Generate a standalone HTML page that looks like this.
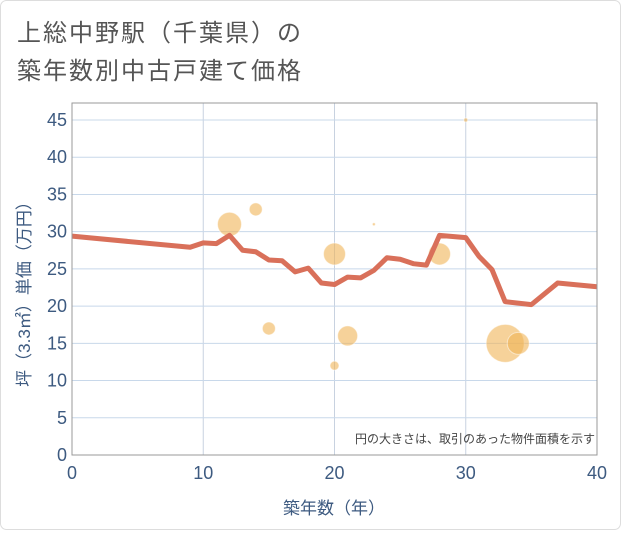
<!DOCTYPE html>
<html><head><meta charset="utf-8"><style>
body{margin:0;background:#fff;}
svg text{font-family:"Liberation Sans","Noto Sans CJK JP",sans-serif;}
</style></head><body>
<svg width="621" height="530" xmlns="http://www.w3.org/2000/svg">
<rect x="0.5" y="0.5" width="620" height="529" rx="6" fill="#fff" stroke="#ddd"/>
<text x="17" y="41" font-size="24" letter-spacing="2" fill="#555">上総中野駅（千葉県）の</text>
<text x="17" y="79" font-size="24" letter-spacing="2" fill="#555">築年数別中古戸建て価格</text>
<g id="grid"></g>
<g id="bubbles"></g>
<g id="line"></g>
<rect x="72" y="103" width="525" height="352" fill="none" stroke="#999" stroke-width="1"/>
<g id="axes"></g>
<text x="595" y="443" font-size="12" fill="#444" text-anchor="end">円の大きさは、取引のあった物件面積を示す</text>
<text x="334" y="514" font-size="17" fill="#3d5a80" text-anchor="middle">築年数（年）</text>
<text transform="translate(30,290) rotate(-90)" font-size="17" fill="#3d5a80" text-anchor="middle">坪（3.3㎡）単価（万円）</text>
</svg>
<script>
const xTicks=[0,10,20,30,40];
const yTicks=[0,5,10,15,20,25,30,35,40,45];
const lineYears=[0,9,10,11,12,13,14,15,16,17,18,19,20,21,22,23,24,25,26,27,28,30,31,32,33,35,37,40];
const lineValues=[29.4,27.9,28.5,28.4,29.5,27.5,27.3,26.2,26.1,24.6,25.1,23.1,22.9,23.9,23.8,24.8,26.5,26.3,25.7,25.5,29.5,29.2,26.7,24.9,20.6,20.2,23.1,22.6];
const bubbleYears=[12,14,15,20,20,21,23,28,30,33,34];
const bubbleValues=[31,33,17,27,12,16,31,27,45,15,15];
const bubbleSizes=[12,6.5,6.5,11,4.5,10,1.5,11,2,19,11];
const NS="http://www.w3.org/2000/svg";
const X=v=>72+v*525/40, Y=v=>455-v*335/45;
function mk(t,a,p){const e=document.createElementNS(NS,t);for(const k in a)e.setAttribute(k,a[k]);document.getElementById(p).appendChild(e);return e;}
xTicks.forEach(t=>{
 const g=mk('line',{x1:X(t),x2:X(t),y1:103,y2:455,stroke:'#c8d2e0','stroke-width':1},'grid');
 
 
 const l=mk('text',{x:X(t),y:479,'font-size':18,fill:'#3d5a80','text-anchor':'middle'},'axes');l.textContent=t;
 
 
});
yTicks.forEach(t=>{
 const g=mk('line',{x1:72,x2:597,y1:Y(t),y2:Y(t),stroke:'#c8d8ea','stroke-width':1},'grid');
 
 
 const l=mk('text',{x:67,y:Y(t)+6,'font-size':18,fill:'#3d5a80','text-anchor':'end'},'axes');l.textContent=t;
 
 
});
bubbleYears.forEach((yr,i)=>{
 const c=mk('circle',{cx:X(yr),cy:Y(bubbleValues[i]),r:bubbleSizes[i],fill:'#f0b456','fill-opacity':0.6,stroke:'#fff','stroke-opacity':0.5},'bubbles');
 
 
});
const p=mk('polyline',{points:lineYears.map((yr,i)=>X(yr)+','+Y(lineValues[i])).join(' '),fill:'none',stroke:'#d9705a','stroke-width':5,'stroke-linejoin':'round'},'line');


</script>
</body></html>
